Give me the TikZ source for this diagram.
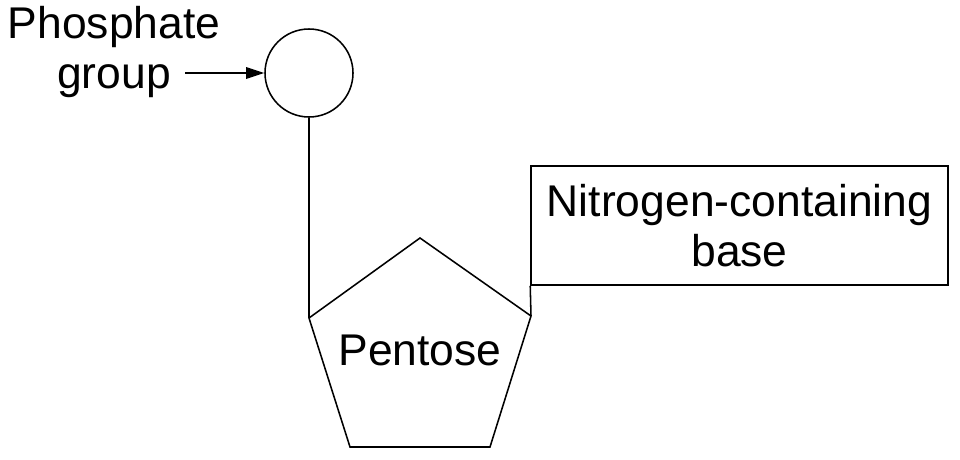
\documentclass[tikz,border=0pt]{standalone}
\usepackage{fontspec}
\setmainfont{Liberation Sans}
\usetikzlibrary{positioning}

\begin{document}
\begin{tikzpicture}[x=0.025cm,y=-0.025cm,line width=1.1pt,
  every text node part/.style={align=center},
  lbl/.style={font=\fontsize{31.6}{36}\selectfont}]

\useasboundingbox (0,0) rectangle (960,460);

%%%%%%%%%%%%%%%%%%%%%%%%%%%%%%%%%%%%%%

\node[draw,circle,minimum size=88*0.025cm,inner sep=0pt] (phos) at (309,73) {};
\node[lbl] (phoslbl) at (114,52) {Phosphate\\group};
\coordinate (arr) at (185,73);
\draw (arr) -- ([xshift=-10*0.025cm]phos.west);
\fill (phos.west) -- ++(-18,-6) -- ++(0,12) -- cycle;

%%%%%%%%%%%%%%%%%%%%%%%%%%%%%%%%%%%%%%

\coordinate (pt) at (420,238);
\coordinate (pr) at (531,316);
\coordinate (pbr) at (490,447);
\coordinate (pbl) at (350,447);
\coordinate (pl) at (309,318);
\draw (pt) -- (pr) -- (pbr) -- (pbl) -- (pl) -- cycle;
\node[lbl] (pent) at (420,350) {Pentose};

%%%%%%%%%%%%%%%%%%%%%%%%%%%%%%%%%%%%%%

\node[draw,lbl,minimum width=417*0.025cm,minimum height=119*0.025cm,inner sep=0pt] (base) at (739.5,225.5) {Nitrogen-containing\\base};

\draw (phos.south) -- (pl);
\draw (base.south west) -- (pr);

\end{tikzpicture}
\end{document}
